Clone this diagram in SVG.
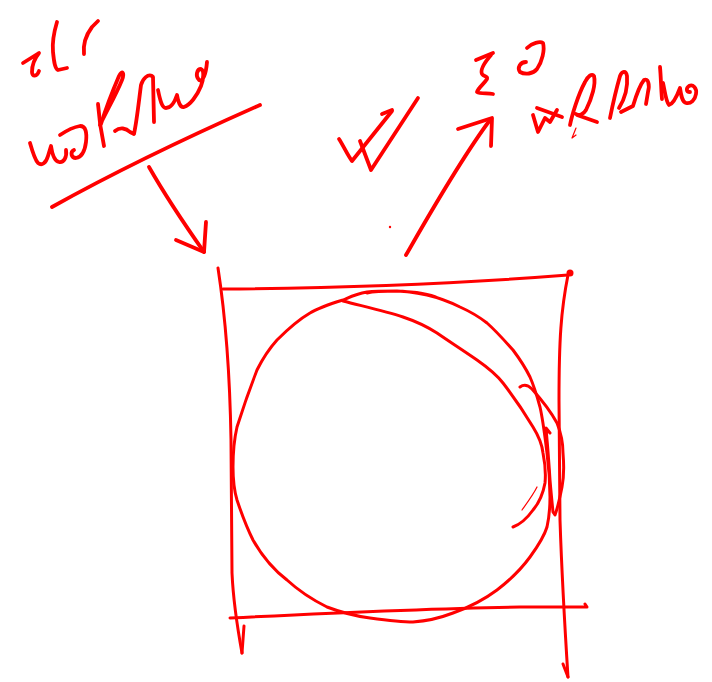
<svg xmlns="http://www.w3.org/2000/svg" width="712" height="682" viewBox="0 0 712 682">
<style>
.ink{fill:none;stroke:#ff0000;stroke-width:3.8;stroke-linecap:round;stroke-linejoin:round}
.pen{fill:none;stroke:#ff0000;stroke-width:3;stroke-linecap:round;stroke-linejoin:round}
.thin{fill:none;stroke:#ff0000;stroke-width:1.2;stroke-linecap:round}
</style>
<rect width="712" height="682" fill="#ffffff"/>
<g id="note-left">
<path class="ink" d="M23,63 L39,53 C35,58 32,66 32,72 C32,77 37,77 39,71"/>
<path class="ink" d="M57,22 C54,32 52,42 53,52 C54,62 55,69 58,70 L67,68"/>
<path class="ink" d="M84,54 C83,45 86,35 92,27 L98,21"/>
<path class="ink" d="M30,143 C32,150 35,160 38,163 C42,166 46,163 48,156 L51,146 C52,153 54,161 59,162 C64,163 67,157 66,150"/>
<path class="ink" d="M60,135 C66,131 74,127 80,126 C86,126 87,133 86,142 C85,150 82,157 76,158 C71,158 70,152 74,150"/>
<path class="ink" d="M98,104 C99,118 101,132 104,146"/>
<path class="ink" d="M100,125 C106,112 116,95 122,80 C125,72 122,70 119,76 C113,90 106,108 101,124"/>
<path class="ink" d="M115,131 C120,127 126,128 130,132 L134,134 C137,120 139,100 141,85 C143,78 148,74 152,76"/>
<path class="ink" d="M153,77 L154,122"/>
<path class="ink" d="M158,90 C160,100 162,108 166,108 C171,108 175,101 177,95 C178,101 180,108 184,107 C190,105 197,96 201,86 C204,78 204,70 201,69 C197,69 195,76 199,80 C203,82 206,74 207,62"/>
<path class="ink" d="M52,207 Q140,158 260,105"/>
</g>
<g id="note-right">
<path class="ink" d="M476,60 L493,53"/>
<path class="ink" d="M491,55 C485,62 480,70 482,74 C484,77 488,76 487,79 C484,84 478,88 477,92 C480,94 487,93 493,94"/>
<path class="ink" d="M527,48 C532,43 540,41 543,43 C545,50 542,62 537,69 C533,74 525,75 520,72 C517,68 520,62 526,62"/>
<path class="ink" d="M533,115 L538,132 L545,118 L550,122 L557,110"/>
<path class="ink" d="M537,108 L562,117"/>
<path class="ink" d="M570,125 C572,115 578,95 585,82 C588,76 592,73 594,76 C596,84 592,98 586,110 C583,115 579,116 576,114 M577,115 L597,122"/>
<path class="thin" d="M576,128 L572,138 M572,138 L576,135"/>
<path class="ink" d="M610,118 C612,108 616,90 620,76 C622,71 626,70 627,76 C628,88 624,100 619,108"/>
<path class="ink" d="M621,112 L633,106 C636,96 639,86 644,80 C648,78 650,84 648,92 L646,104"/>
<path class="ink" d="M660,67 C661,78 661,88 662,99"/>
<path class="ink" d="M663,83 C665,92 666,102 669,105 C673,104 677,96 680,88 C681,95 682,102 686,103 C691,104 695,100 696,94 C697,88 693,84 689,86 C686,88 686,92 690,92"/>
</g>
<g id="check">
<path class="ink" d="M339,139 C343,145 348,156 352,161 L392,111"/>
<path class="ink" d="M382,114 L392,110"/>
<path class="ink" d="M360,141 L371,170 L418,98"/>
<circle cx="390" cy="227" r="1.2" fill="#ff0000"/>
</g>
<g id="square">
<path class="pen" d="M218,268 C226,320 230,380 231,440 L232,573 C233,595 236,620 242,653"/>
<path class="pen" d="M244,626 L242,653"/>
<path class="pen" d="M223,289 C350,288 480,282 568,275"/>
<circle cx="570" cy="273" r="3.5" fill="#ff0000"/>
<path class="pen" d="M568,275 C561,310 559,340 559,400 L560,520 C562,580 565,630 568,677"/>
<path class="pen" d="M563,664 L568,677"/>
<path class="pen" d="M230,618 C350,612 450,608 520,607 C550,607 570,607 587,607 L585,604"/>
</g>
<g id="circle">
<path class="pen" d="M438,298 C430,294 420,292 397,291 C385,291 375,291 367,292 C355,294 348,298 343,300 C330,304 318,308 310,313 C298,320 287,330 277,340 C268,350 262,360 257,370 C250,388 243,408 237,427 C234,440 233,455 233,467 C233,478 234,490 237,500 C242,515 247,528 253,540 C262,556 274,570 287,580 C300,592 313,600 327,607 C340,612 355,616 370,618 C385,620 400,622 413,622 C428,621 440,618 453,613 C470,607 485,599 497,590 C510,580 522,568 530,557 C538,546 544,537 547,527 C549,518 550,508 550,497 C550,482 549,468 547,453 C545,437 543,420 540,407 C537,396 534,386 530,377 C525,367 519,358 513,350 C505,341 496,331 487,323 C478,316 469,311 460,307 C450,302 440,298 427,295 C417,293 407,291 397,291 C385,291 375,291 367,293"/>
<path class="pen" d="M343,301 C362,306 385,311 403,317 C415,321 426,326 437,333 C450,342 464,351 477,360 C487,367 496,374 503,383 C513,396 524,412 533,427 C538,435 542,444 543,453 C545,463 546,473 545,483 C543,494 539,503 533,510 C528,517 521,524 513,527"/>
<path class="pen" d="M520,387 C524,384 528,385 532,389 C540,398 550,410 557,423 C561,433 563,443 563,453 C564,465 564,477 562,487 C560,497 558,507 555,515 L553,512 C552,502 551,492 550,480 C549,465 548,450 547,440 L546,428 L550,433"/>
<path class="thin" d="M522,510 C527,503 533,495 537,487"/>
</g>
<g id="connectors">
<path class="ink" d="M149,167 C165,195 185,225 204,252"/>
<path class="ink" d="M176,240 L204,252 L206,222"/>
<path class="ink" d="M406,255 C425,222 460,160 490,120"/>
<path class="ink" d="M458,129 L492,118 L491,146"/>
</g>
</svg>
